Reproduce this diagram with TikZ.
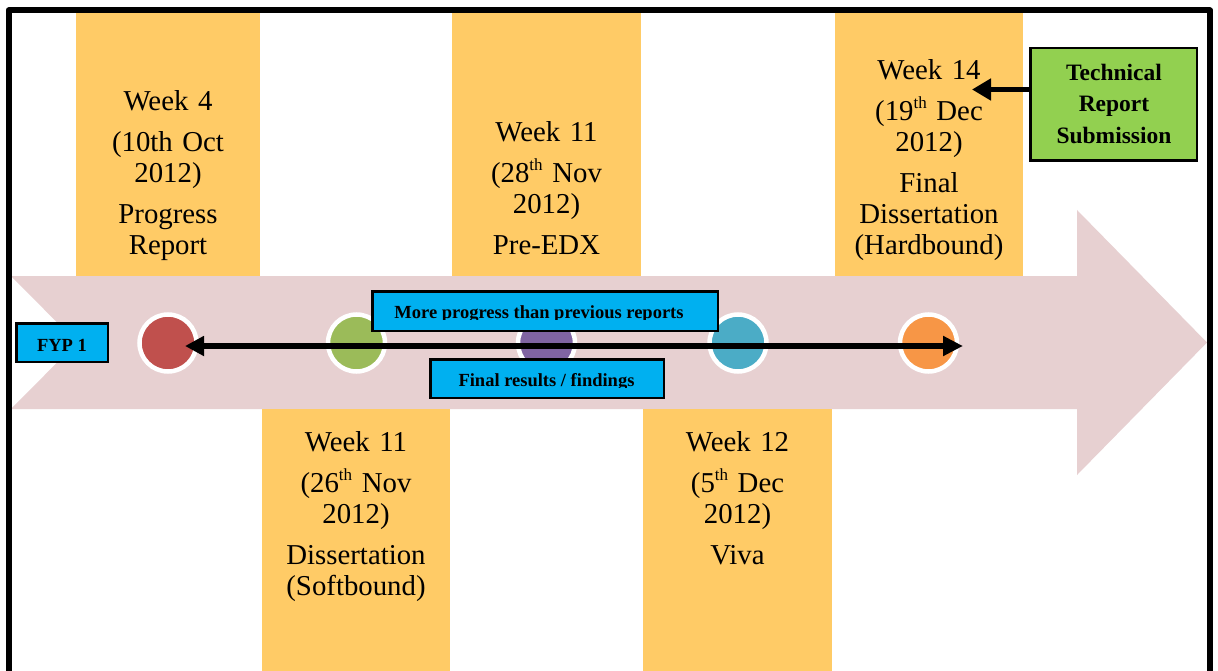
\documentclass[tikz,border=0pt]{standalone}
\usepackage{fontspec}
\setmainfont{Liberation Serif}
\usetikzlibrary{arrows.meta}

\definecolor{bandpink}{HTML}{E7D0D1}
\definecolor{colgold}{HTML}{FFCB66}
\definecolor{tagblue}{HTML}{00B0F0}
\definecolor{techgreen}{HTML}{92D050}
\definecolor{dotred}{HTML}{C0504D}
\definecolor{dotgreen}{HTML}{9BBB59}
\definecolor{dotpurple}{HTML}{8064A2}
\definecolor{dotblue}{HTML}{4BACC6}
\definecolor{dotorange}{HTML}{F79646}

% ordinal suffix, small and raised
\newcommand{\ordsfx}[1]{\raisebox{0.42em}{\fontsize{17}{17}\selectfont #1}}

\begin{document}
\begin{tikzpicture}[x=1pt,y=-1pt,
  coltext/.style={text width=188pt, align=center, anchor=base, inner sep=0pt,
    font=\fontsize{28.8}{31}\selectfont},
  dot/.style={circle, draw=white, line width=4.5pt, minimum size=57pt, inner sep=0pt},
  tagbox/.style={draw=black, line width=2.5pt, fill=tagblue, inner sep=0pt},
  tagtext/.style={anchor=base, inner sep=0pt, font=\bfseries\fontsize{18.5}{20}\selectfont},
  bigarrow/.style={line width=5.5pt, {Triangle[length=19pt,width=19pt]}-{Triangle[length=20pt,width=19pt]}},
  techarrow/.style={line width=5pt, -{Triangle[length=19pt,width=21pt]}}
]
\useasboundingbox (0,0) rectangle (1218,671);
\fill[white] (0,0) rectangle (1218,671);

% timeline band with notched tail and arrow head
\fill[bandpink] (11,276) -- (1077,276) -- (1077,210) -- (1207,342.5)
  -- (1077,475) -- (1077,409) -- (11,409) -- (77,342.5) -- cycle;

% milestone columns
\fill[colgold] (76,12) rectangle (260,276);
\fill[colgold] (452,12) rectangle (641,276);
\fill[colgold] (835,12) rectangle (1023,276);
\fill[colgold] (262,409) rectangle (450,672);
\fill[colgold] (643,409) rectangle (832,672);

\node[coltext] (m1) at (168,111) {Week 4\\[10pt](10th Oct\\2012)\\[10pt]Progress\\Report};
\node[coltext] (m2) at (546.5,142) {Week 11\\[10pt](28\ordsfx{th} Nov\\2012)\\[10pt]Pre-EDX};
\node[coltext] (m3) at (929,80) {Week 14\\[10pt](19\ordsfx{th} Dec\\2012)\\[10pt]Final\\Dissertation\\(Hardbound)};
\node[coltext] (m4) at (356,451.5) {Week 11\\[10pt](26\ordsfx{th} Nov\\2012)\\[10pt]Dissertation\\(Softbound)};
\node[coltext] (m5) at (737.5,451.5) {Week 12\\[10pt](5\ordsfx{th} Dec\\2012)\\[10pt]Viva};

% milestone dots
\node[dot, fill=dotred] (d1) at (168,343) {};
\node[dot, fill=dotgreen] (d2) at (356.5,343) {};
\node[dot, fill=dotpurple] (d3) at (546.5,343) {};
\node[dot, fill=dotblue] (d4) at (738,343) {};
\node[dot, fill=dotorange] (d5) at (928.5,343) {};

% span arrow across the dots
\coordinate (spanL) at (185,346);
\coordinate (spanR) at (963,346);
\draw[bigarrow] (spanL) -- (spanR);

% labels on the band
\node[tagbox, minimum width=91.5pt, minimum height=38.5pt] (fypbox) at (62,342.5) {};
\node[tagtext] (fyp) at (62,351) {FYP 1};

\node[tagbox, minimum width=345.5pt, minimum height=39.5pt] (morebox) at (545,311) {};
\begin{scope}
  \clip (372,291) rectangle (718,319.5);
  \node[tagtext] (more) at (539,318) {More progress than previous reports};
\end{scope}

\node[tagbox, minimum width=233.5pt, minimum height=38.5pt] (finalbox) at (547,378.5) {};
\begin{scope}
  \clip (430,359) rectangle (664,387.7);
  \node[tagtext] (final) at (546.5,386.7) {Final results / findings};
\end{scope}

% technical report submission
\node[draw=black, line width=2.5pt, fill=techgreen, minimum width=166.5pt,
  minimum height=112.5pt, inner sep=0pt] (techbox) at (1113.5,104.5) {};
\node[anchor=base, inner sep=0pt, text width=160pt, align=center,
  font=\bfseries\fontsize{23.5}{31.5}\selectfont] (tech) at (1114,80.5)
  {Technical\\Report\\Submission};
\coordinate (techout) at (1029,89.5);
\coordinate (techin) at (972,89.5);
\draw[techarrow] (techout) -- (techin);

% outer frame, open at the bottom
\draw[line width=6pt, line join=round] (8.5,690) -- (8.5,10.5) -- (1210,10.5) -- (1210,690);
\end{tikzpicture}
\end{document}
